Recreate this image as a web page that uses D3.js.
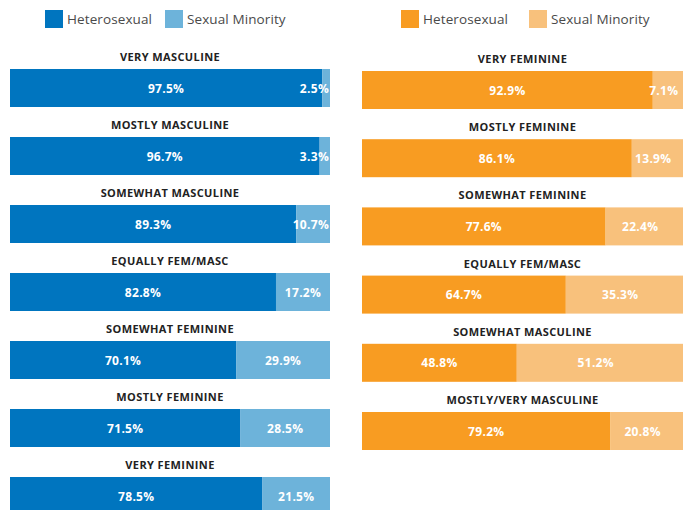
<!DOCTYPE html>
<html><head><meta charset="utf-8">
<script src="https://cdn.jsdelivr.net/npm/d3@7"></script>
<style>body{margin:0;background:#fff}svg{display:block}</style>
</head><body>
<script>
const leftCategories = ["VERY MASCULINE","MOSTLY MASCULINE","SOMEWHAT MASCULINE","EQUALLY FEM/MASC","SOMEWHAT FEMININE","MOSTLY FEMININE","VERY FEMININE"];
const leftHetero = [97.5, 96.7, 89.3, 82.8, 70.1, 71.5, 78.5];
const leftMinority = [2.5, 3.3, 10.7, 17.2, 29.9, 28.5, 21.5];
const rightCategories = ["VERY FEMININE","MOSTLY FEMININE","SOMEWHAT FEMININE","EQUALLY FEM/MASC","SOMEWHAT MASCULINE","MOSTLY/VERY MASCULINE"];
const rightHetero = [92.9, 86.1, 77.6, 64.7, 48.8, 79.2];
const rightMinority = [7.1, 13.9, 22.4, 35.3, 51.2, 20.8];
const seriesNames = ["Heterosexual","Sexual Minority"];

const W = 687, H = 510;
const svg = d3.select("body").append("svg").attr("width", W).attr("height", H);
const FONT = "'Open Sans', Lato, sans-serif";

function panel(cfg){
  const g = svg.append("g");
  const x = d3.scaleLinear().domain(cfg.domain).range([cfg.x0, cfg.x1]);
  const y = d3.scaleBand().domain(cfg.cats).range([cfg.y0, cfg.y0 + cfg.step*cfg.cats.length]).paddingInner(0).paddingOuter(0);
  const lg = g.append("g");
  seriesNames.forEach((n,i)=>{
    lg.append("rect").attr("x", cfg.legX[i]).attr("y", 10).attr("width", 18).attr("height", 18).attr("fill", cfg.colors[i]);
    lg.append("text").attr("x", cfg.legX[i]+22).attr("y", 24).attr("font-family", FONT).attr("font-size", 13.5)
      .attr("letter-spacing", 0.1).attr("fill", "#4a4a4a").text(n);
  });
  cfg.cats.forEach((c,i)=>{
    const top = y(c);
    g.append("text").attr("x", (cfg.x0+cfg.x1)/2).attr("y", top).attr("text-anchor","middle")
      .attr("font-family", FONT).attr("font-weight", 700).attr("font-size", 11).attr("letter-spacing", 0.4).attr("fill", "#222").text(c);
    const by = top + cfg.barOff, bh = cfg.barH;
    const h = cfg.hetero[i], m = cfg.minority[i];
    const xs = cfg.x0, xe = cfg.x1;
    g.append("rect").attr("x", xs).attr("y", by).attr("width", x(h)-xs).attr("height", bh).attr("fill", cfg.colors[0]);
    g.append("rect").attr("x", x(h)).attr("y", by).attr("width", xe-x(h)).attr("height", bh).attr("fill", cfg.colors[1]);
    const ty = by + bh/2 + 4.5;
    g.append("text").attr("x", (xs+x(h))/2).attr("y", ty).attr("text-anchor","middle")
      .attr("font-family", FONT).attr("font-weight", 700).attr("font-size", 12).attr("letter-spacing", 0.3).attr("fill", "#fff").text(h.toFixed(1)+"%");
    const t = g.append("text").attr("y", ty).attr("font-family", FONT).attr("font-weight", 700).attr("font-size", 12).attr("letter-spacing", 0.3).attr("fill", "#fff").text(m.toFixed(1)+"%");
    const cx = (x(h)+x(h+m))/2;
    const tw = t.node().getComputedTextLength();
    const limit = xe - 1 - tw/2;
    t.attr("x", Math.min(cx, limit)).attr("text-anchor","middle");
  });
}

panel({x0:10, x1:330, domain:[-1.9,100], y0:61, step:68, barOff:8, barH:38, cats:leftCategories, hetero:leftHetero, minority:leftMinority,
  colors:["#0075BF","#6DB3DA"], legX:[45,165]});
panel({x0:362, x1:683, domain:[-1.4,102.7], y0:63, step:68.2, barOff:8, barH:38, cats:rightCategories, hetero:rightHetero, minority:rightMinority,
  colors:["#F89C22","#F8C17C"], legX:[401,529]});
</script>
</body></html>
